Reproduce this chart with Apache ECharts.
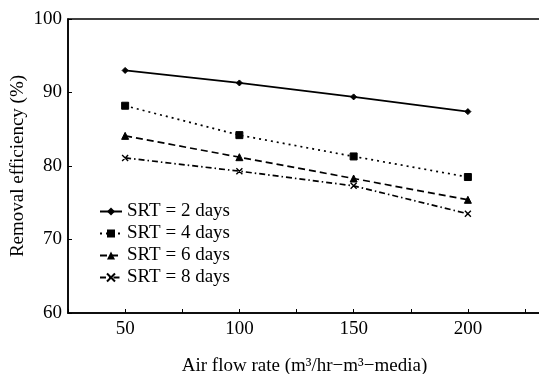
<!DOCTYPE html>
<html>
<head>
<meta charset="utf-8">
<script src="https://cdn.jsdelivr.net/npm/echarts@6/dist/echarts.min.js"></script>
<style>
  html, body { margin: 0; padding: 0; background: #fff; }
  #chart { width: 539px; height: 374px; }
</style>
</head>
<body>
<div id="chart"></div>
<script>
// air flow rate (m3/hr-m3-media)
const airFlow = [50, 100, 150, 200]
// removal efficiency (%) per SRT
const srt2 = [93.0, 91.3, 89.4, 87.4]
const srt4 = [88.2, 84.2, 81.3, 78.5]
const srt6 = [84.1, 81.2, 78.3, 75.4]
const srt8 = [81.1, 79.3, 77.3, 73.5]
const seriesNames = ['SRT = 2 days', 'SRT = 4 days', 'SRT = 6 days', 'SRT = 8 days']
const xTickLabels = [50, 100, 150, 200]
const yTicks = [60, 70, 80, 90, 100]

const font = 'Liberation Serif, Times New Roman, serif'
const crossPath = 'path://M0,0L10,10M10,0L0,10Z'

const pair = (ys) => airFlow.map((x, i) => [x, ys[i]])

const chart = echarts.init(document.getElementById('chart'), null, { renderer: 'canvas' })

const mk = (name, ys, lineType, symbol, size, extra) => Object.assign({
  name,
  type: 'line',
  data: pair(ys),
  symbol,
  symbolSize: size,
  color: '#000',
  lineStyle: { color: '#000', width: 1.7, type: lineType },
  itemStyle: { color: '#000', borderColor: '#000' },
}, extra || {})

chart.setOption({
  animation: false,
  backgroundColor: '#fff',
  textStyle: { fontFamily: font, color: '#000' },
  grid: {
    left: 68, right: -2, top: 19, bottom: 61,
    outerBoundsMode: 'none', containLabel: false,
    show: true, borderColor: '#000', borderWidth: 1.5,
  },
  legend: {
    left: 94, top: 197,
    orient: 'vertical',
    itemWidth: 22, itemHeight: 10, itemGap: 3,
    textStyle: { fontFamily: font, fontSize: 19, color: '#000' },
    data: seriesNames,
  },
  xAxis: {
    type: 'value', min: 25, max: 232, interval: 25,
    name: 'Air flow rate (m\u00b3/hr\u2212m\u00b3\u2212media)',
    nameLocation: 'middle', nameGap: 44, nameMoveOverlap: false,
    nameTextStyle: { fontFamily: font, fontSize: 19, color: '#000' },
    axisLine: { lineStyle: { color: '#000', width: 1.5 } },
    axisTick: { inside: true, length: 4, lineStyle: { color: '#000' } },
    axisLabel: {
      fontFamily: font, fontSize: 19, color: '#000', margin: 7,
      formatter: (v) => xTickLabels.includes(v) ? String(v) : '',
    },
    splitLine: { show: false },
  },
  yAxis: {
    type: 'value', min: yTicks[0], max: yTicks[yTicks.length - 1], interval: 10,
    name: 'Removal efficiency (%)',
    nameLocation: 'middle', nameGap: 40, nameMoveOverlap: false,
    nameTextStyle: { fontFamily: font, fontSize: 19, color: '#000' },
    axisLine: { show: true, lineStyle: { color: '#000', width: 1.5 } },
    axisTick: { show: true, inside: true, length: 4, lineStyle: { color: '#000' } },
    axisLabel: { fontFamily: font, fontSize: 19, color: '#000', margin: 6 },
    splitLine: { show: false },
  },
  series: [
    mk(seriesNames[0], srt2, 'solid', 'diamond', 6),
    mk(seriesNames[1], srt4, [2, 4], 'rect', 7),
    mk(seriesNames[2], srt6, [7, 4], 'triangle', 7),
    mk(seriesNames[3], srt8, [6, 3, 1.5, 3], crossPath, 6, {
      itemStyle: { color: 'none', borderColor: '#000', borderWidth: 1.4 },
    }),
  ],
})
</script>
</body>
</html>
